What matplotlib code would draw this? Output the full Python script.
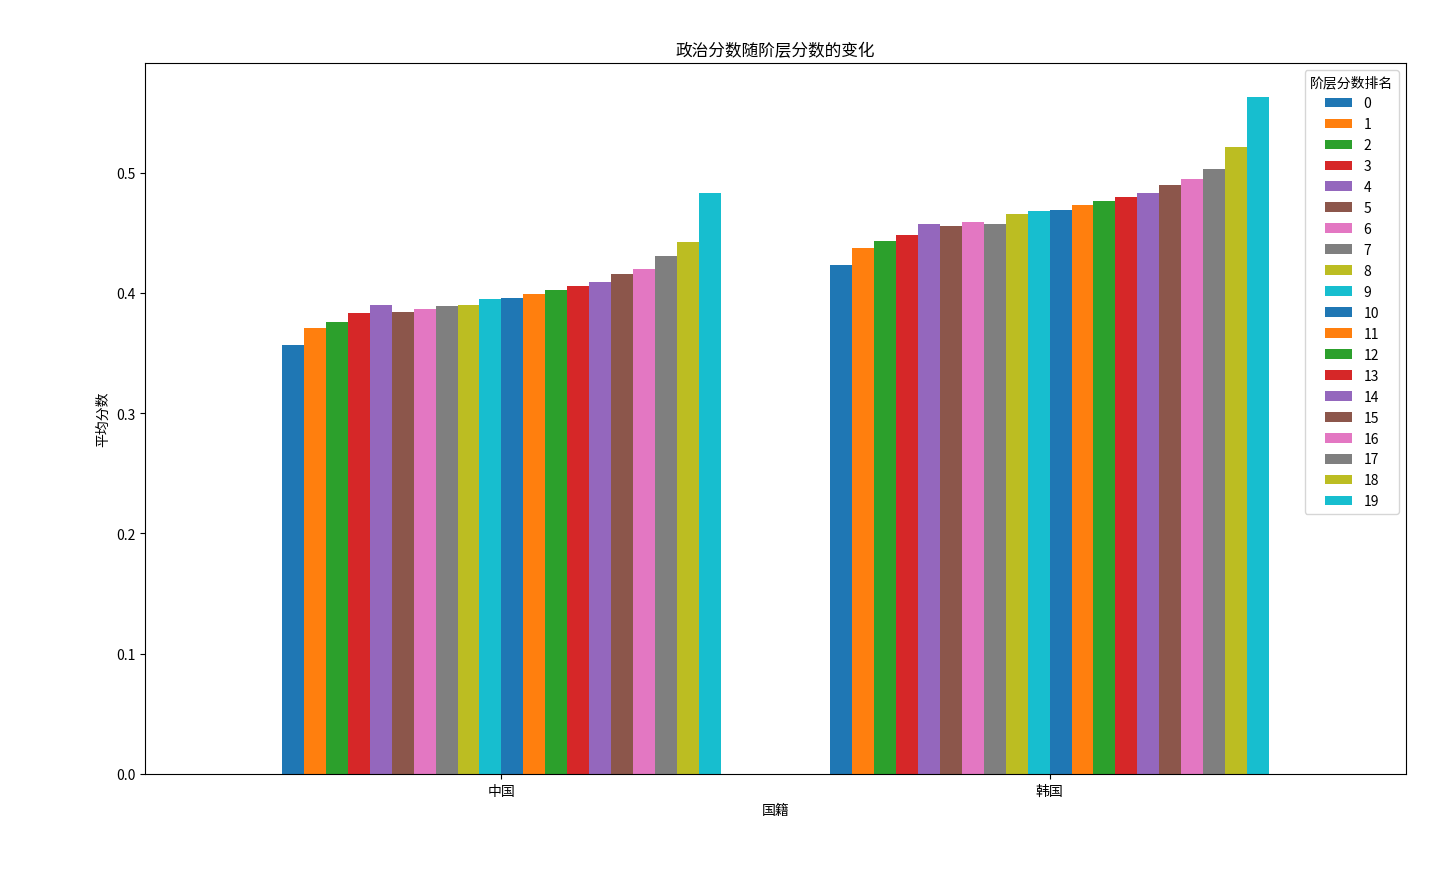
import matplotlib
matplotlib.use('Agg')
import matplotlib.pyplot as plt
import numpy as np

plt.rcParams['font.family'] = ['Noto Sans CJK SC', 'DejaVu Sans']
plt.rcParams['axes.unicode_minus'] = False

countries = ['中国', '韩国']
ranks = list(range(20))
china = [0.357, 0.371, 0.376, 0.383, 0.390, 0.384, 0.387, 0.389, 0.390, 0.395,
         0.396, 0.399, 0.402, 0.406, 0.409, 0.416, 0.420, 0.431, 0.442, 0.483]
korea = [0.423, 0.437, 0.443, 0.448, 0.457, 0.456, 0.459, 0.457, 0.466, 0.468,
         0.469, 0.473, 0.476, 0.480, 0.483, 0.490, 0.495, 0.503, 0.521, 0.563]

colors = plt.rcParams['axes.prop_cycle'].by_key()['color']

fig = plt.figure(figsize=[14.4, 8.78], dpi=100)
ax = fig.add_axes([145/1440, 1-775/878, (1406-145)/1440, (775-64)/878])

x = np.arange(len(countries))
w = 0.8 / len(ranks)
for i, r in enumerate(ranks):
    ax.bar(x - 0.4 + w * (i + 0.5), [china[i], korea[i]], w,
           color=colors[i % 10], label=str(r))

ax.set_xticks(x)
ax.set_xticklabels(countries)
ax.set_xlim(-0.65, 1.65)
ax.set_xlabel('国籍')
ax.set_ylabel('平均分数')
ax.set_title('政治分数随阶层分数的变化')
ax.legend(title='阶层分数排名', loc='upper right')

plt.savefig('out.png', dpi=100)
